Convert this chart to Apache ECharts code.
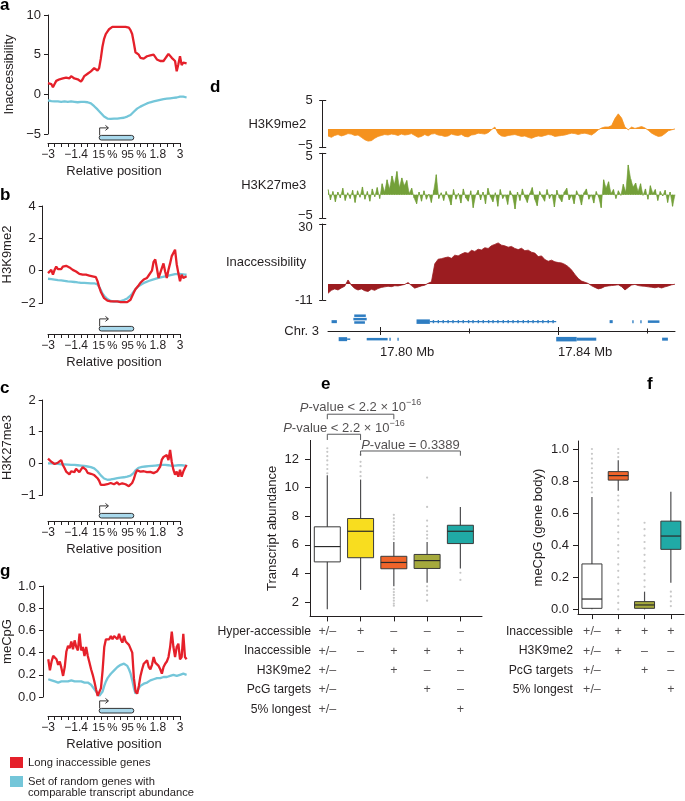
<!DOCTYPE html>
<html><head><meta charset="utf-8">
<script src="https://cdn.jsdelivr.net/npm/echarts@6/dist/echarts.min.js"></script>
<style>html,body{margin:0;padding:0;background:#fff;}#chart{width:685px;height:801px;}</style>
</head><body><div id="chart"></div>
<script>
// ================= DATA =================
// profile panels (a, b, c, g): 85 samples from -3 kb to +3 kb (relative position)
const POS_LABEL_AT = [0, 17, 34.5, 52, 66.5, 80];
const POS_LABELS = ['\u22123', '\u22121.4', '{p|15\u2009%}', '{p|95\u2009%}', '1.8', '3'];
const GENE_BODY = [31, 52];

const RED_A = [1.4,1.2,1.3,0.9,1.3,1.7,1.6,1.9,1.8,2.0, 1.9,2.1,2.2,2.0,2.3,2.1,2.0,2.1,1.9,1.8, 1.6,1.9,2.3,2.5,2.6,2.8,2.9,3.1,3.3,3.1, 3.0,3.3,4.5,6.0,7.0,7.6,7.9,8.2,8.3,8.5, 8.4,8.5,8.4,8.5,8.4,8.5,8.4,8.5,8.3,8.4, 8.1,7.6,6.5,5.3,5.4,5.0,4.6,4.4,4.5,4.7, 4.8,4.9,4.9,5.1,5.0,5.0,4.4,4.3,4.2,4.3, 4.2,4.5,4.8,5.1,4.9,4.6,4.4,4.2,2.9,3.8, 4.8,3.7,4.0,3.9,3.9];
const CYAN_A = [-0.75,-0.8,-0.85,-0.85,-0.9,-0.9,-0.9,-0.95,-0.95,-0.9, -0.9,-0.95,-0.95,-0.95,-0.9,-0.95,-0.95,-0.95,-1.0,-1.0, -0.95,-0.95,-0.95,-1.0,-1.0,-1.05,-1.15,-1.3,-1.5,-1.7, -1.9,-2.1,-2.35,-2.6,-2.8,-2.95,-3.05,-3.1,-3.1,-3.1, -3.05,-3.05,-3.05,-3.0,-3.0,-3.0,-2.95,-2.9,-2.8,-2.7, -2.6,-2.4,-2.2,-2.0,-1.8,-1.65,-1.55,-1.45,-1.35,-1.25, -1.15,-1.05,-1.0,-0.95,-0.9,-0.85,-0.8,-0.75,-0.7,-0.65, -0.6,-0.55,-0.55,-0.5,-0.5,-0.45,-0.45,-0.4,-0.4,-0.35, -0.3,-0.3,-0.3,-0.35,-0.4];
const RED_B = [-0.15,-0.25,0.05,-0.25,0.05,0.25,0.1,0.15,0.1,0.25, 0.2,0.3,0.25,0.2,0.1,0.05,0.0,-0.05,-0.1,-0.2, -0.2,-0.25,-0.2,-0.25,-0.2,-0.3,-0.3,-0.35,-0.3,-0.4, -0.65,-1.0,-1.3,-1.5,-1.7,-1.8,-1.85,-1.9,-1.9,-1.85, -1.9,-1.95,-1.9,-2.0,-1.95,-1.9,-1.95,-2.0,-1.95,-1.85, -1.8,-1.7,-1.35,-1.15,-1.05,-0.9,-0.75,-0.65,-0.55,-0.5, -0.45,-0.3,-0.25,0.0,0.55,0.7,0.15,-0.45,-0.15,0.15, 0.45,-0.05,-0.45,0.05,0.45,0.9,1.0,1.3,0.4,-0.15, -0.65,-0.25,-0.45,-0.35,-0.35];
const CYAN_B = [-0.5,-0.5,-0.52,-0.55,-0.55,-0.57,-0.58,-0.6,-0.6,-0.62, -0.63,-0.65,-0.66,-0.67,-0.68,-0.7,-0.7,-0.72,-0.73,-0.73, -0.75,-0.75,-0.76,-0.76,-0.77,-0.77,-0.78,-0.78,-0.78,-0.8, -0.85,-1.0,-1.2,-1.4,-1.55,-1.65,-1.75,-1.82,-1.87,-1.9, -1.92,-1.92,-1.92,-1.9,-1.88,-1.85,-1.82,-1.78,-1.72,-1.65, -1.55,-1.42,-1.3,-1.15,-1.05,-0.95,-0.88,-0.82,-0.77,-0.72, -0.68,-0.64,-0.6,-0.57,-0.54,-0.51,-0.48,-0.45,-0.43,-0.4, -0.38,-0.35,-0.33,-0.3,-0.28,-0.26,-0.24,-0.22,-0.2,-0.2, -0.2,-0.22,-0.24,-0.25,-0.25];
const RED_C = [0.15,0.1,0.05,0.02,-0.02,0.02,0.02,0.08,0.1,-0.05, -0.15,-0.26,-0.3,-0.35,-0.25,-0.2,-0.28,-0.17,-0.2,-0.28, -0.2,-0.12,-0.08,-0.2,-0.3,-0.32,-0.33,-0.35,-0.37,-0.4, -0.47,-0.55,-0.68,-0.72,-0.68,-0.68,-0.66,-0.63,-0.62,-0.67, -0.66,-0.62,-0.6,-0.67,-0.68,-0.63,-0.64,-0.66,-0.68,-0.72, -0.7,-0.62,-0.5,-0.33,-0.22,-0.25,-0.26,-0.24,-0.25,-0.28, -0.28,-0.26,-0.27,-0.3,-0.31,-0.27,-0.26,-0.18,-0.1,0.12, 0.2,0.16,0.26,0.1,0.42,0.05,-0.2,-0.36,-0.26,-0.42, -0.2,-0.42,-0.26,-0.15,-0.05];
const CYAN_C = [0.0,0.0,0.0,-0.01,-0.01,-0.02,-0.02,-0.02,-0.03,-0.03, -0.03,-0.04,-0.04,-0.04,-0.05,-0.05,-0.05,-0.06,-0.06,-0.07, -0.07,-0.08,-0.08,-0.09,-0.1,-0.11,-0.12,-0.14,-0.16,-0.2, -0.25,-0.31,-0.38,-0.44,-0.48,-0.5,-0.52,-0.52,-0.51,-0.5, -0.49,-0.48,-0.47,-0.46,-0.45,-0.45,-0.44,-0.43,-0.42,-0.41, -0.39,-0.36,-0.3,-0.22,-0.17,-0.14,-0.12,-0.11,-0.1,-0.1, -0.09,-0.09,-0.08,-0.08,-0.08,-0.07,-0.07,-0.06,-0.06,-0.05, -0.05,-0.05,-0.05,-0.06,-0.07,-0.08,-0.08,-0.07,-0.06,-0.06, -0.05,-0.06,-0.06,-0.07,-0.07];
const RED_G = [0.34,0.24,0.32,0.37,0.38,0.34,0.29,0.32,0.26,0.19, 0.27,0.41,0.46,0.44,0.5,0.43,0.51,0.45,0.42,0.57, 0.42,0.45,0.37,0.45,0.37,0.31,0.25,0.2,0.14,0.07, 0.01,0.0,0.08,0.24,0.45,0.52,0.53,0.52,0.55,0.52, 0.55,0.56,0.52,0.57,0.52,0.49,0.55,0.5,0.51,0.47, 0.46,0.4,0.17,0.05,0.03,0.1,0.19,0.25,0.3,0.29, 0.33,0.27,0.25,0.29,0.36,0.31,0.32,0.28,0.25,0.21, 0.27,0.3,0.32,0.36,0.45,0.59,0.45,0.36,0.45,0.48, 0.34,0.36,0.57,0.36,0.34];
const CYAN_G = [0.16,0.15,0.15,0.14,0.14,0.14,0.13,0.14,0.14,0.14, 0.14,0.14,0.14,0.14,0.15,0.14,0.14,0.14,0.14,0.14, 0.14,0.14,0.13,0.13,0.13,0.12,0.11,0.09,0.07,0.05, 0.03,0.01,0.02,0.05,0.1,0.14,0.17,0.19,0.21,0.22, 0.24,0.25,0.27,0.28,0.29,0.3,0.3,0.29,0.28,0.25, 0.21,0.15,0.08,0.03,0.05,0.08,0.1,0.11,0.12,0.13, 0.13,0.14,0.15,0.15,0.16,0.16,0.17,0.16,0.17,0.17, 0.18,0.18,0.18,0.18,0.19,0.2,0.2,0.2,0.19,0.19, 0.2,0.21,0.21,0.21,0.2];

// genome browser tracks (d), evenly spaced along 17.788–17.866 Mb
const MB_RANGE = [17.7883, 17.8663];
const H3K9 = [-2.5,-2.8,-2.4,-2.2,-2.5,-2.3,-2.0,-2.1,-2.4,-2.3, -2.8,-3.3,-3.6,-3.5,-3.0,-2.6,-2.4,-2.2,-2.3,-2.1, -2.2,-2.4,-2.1,-2.3,-2.2,-2.0,-2.4,-2.8,-2.6,-2.2, -2.5,-2.1,-2.0,-2.3,-2.4,-2.6,-2.5,-2.1,-2.3,-2.4, -2.2,-2.6,-2.7,-2.3,-2.2,-1.9,-2.0,-2.1,-1.8,-1.2, -0.6,-2.0,-2.5,-2.6,-2.4,-2.3,-2.2,-2.4,-2.6,-2.5, -2.8,-3.0,-2.7,-2.5,-2.6,-2.4,-2.2,-2.3,-2.6,-2.5, -2.4,-2.3,-2.1,-1.9,-2.0,-2.2,-2.0,-1.9,-2.1,-2.3, -1.8,-1.2,-0.8,-0.6,-0.6,-0.3,1.2,2.2,1.3,-0.6, -1.2,-0.6,-0.9,-0.7,-0.5,-0.8,-1.3,-1.9,-2.3,-2.6, -2.5,-2.0,-1.4,-1.2,-1.0];
const H3K27 = [-0.6,-2.2,-0.9,-2.5,-1.0,-1.9,-0.4,-2.3,-1.1,-2.0,-0.7,-2.6,-0.8,-1.8,-0.2,-2.1,-0.9,-2.4,-0.5,-1.7,-0.3,-2.0,
 0.3,-1.0,0.9,-0.5,1.5,0.2,2.2,-0.3,1.2,0.0,0.8,-1.2,-0.4,
 -1.9,-2.8,-1.0,-2.4,-0.8,-2.1,-1.3,-2.6,-0.7,1.7,-2.0,-1.1,
 -2.3,-0.9,-1.8,-3.0,-0.6,-2.1,-1.2,-2.7,-0.5,-1.9, -2.4,-0.8,-3.4,-1.5,-0.7,-2.2,-1.0,-2.8,-0.4,-1.7, -2.5,-1.1,-3.2,-0.6,-2.0,-1.4,-2.9,-0.8,-1.6,-3.6, -1.0,-2.3,-0.5,-1.8,-2.6,-1.2,-0.3,-2.1,-3.1,-0.9, -1.7,-2.4,-0.6,-2.0,-1.3,-3.3,-0.7,-1.9,-2.5,-1.0, -0.4,-2.2,-1.5,-2.8,-0.8,-1.6,-3.0,-1.1,-0.5,-2.1, -1.4,-2.7,-0.9,-1.8,-3.4,
 0.9,-0.4,0.6,-1.2,-0.6,-2.0,-0.8,-1.5,0.2,-1.0,3.2,1.0,-0.2,0.4,-0.9,0.3,-1.5,-0.5,-2.1,0.0,-1.2,-0.6,-2.3,-0.9,-1.6,-0.7,-2.6,-1.0,-3.2,-1.4];
const INACC = [-7.4,-5.8,-5.0,-5.6,-4.5,-3.6,-0.2,-3.0,-4.8,-5.6, -5.0,-6.0,-6.4,-5.2,-5.8,-4.8,-4.2,-3.9,-3.6,-3.8, -3.3,-3.4,-3.0,-2.6,-1.6,-3.2,-4.6,-4.0,-3.4,-3.0, -2.0,-1.2,8.5,11.0,11.3,11.8,12.2,11.5,13.2,12.8, 13.8,14.6,14.2,15.8,15.2,16.4,16.0,17.2,16.8,18.3, 19.0,19.8,18.6,18.2,17.5,17.9,16.8,16.2,16.9,15.6, 15.9,14.8,14.3,12.4,12.8,10.8,9.9,10.5,9.6,9.2, 9.0,8.2,7.0,5.2,2.8,0.6,-0.8,-1.4,-2.1,-3.3, -4.2,-5.0,-4.6,-3.7,-3.4,-3.2,-3.0,-2.8,-3.8,-5.6, -4.2,-2.9,-2.6,-3.2,-3.5,-3.6,-3.9,-4.1,-4.4,-4.0, -4.5,-3.9,-3.4,-2.8,-2.5];
const TRACK_NAMES = ['H3K9me2', 'H3K27me3', 'Inaccessibility'];
const TRACK_MIN = [-5, -5, -11];
const TRACK_MAX = [5, 5, 30];
const TRACK_MIN_LABEL = ['{u|\u22125}', '{u|\u22125}', '-11'];
const TRACK_MAX_LABEL = ['5', '{d|5}', '{d|30}'];
const TRACK_BASE = [-1.0, -1.4, -2.4];

// gene models on Chr. 3 (Mb): start, end, row (+ above / - below axis), block height
const GENE_START = [17.7891,17.7942,17.7940,17.7942,17.8082,17.8112,17.8516,17.8567,17.8585,17.8602, 17.7907,17.7926,17.7970,17.8021,17.8039,17.8396,17.8442,17.8634];
const GENE_END   = [17.7903,17.7968,17.7970,17.7966,17.8112,17.8396,17.8523,17.8570,17.8588,17.8628, 17.7926,17.7933,17.8017,17.8024,17.8042,17.8442,17.8486,17.8647];
const GENE_ROW   = [0.55,0.9,0.7,0.5,0.55,0.55,0.55,0.55,0.55,0.55, -0.48,-0.48,-0.48,-0.48,-0.48,-0.48,-0.48,-0.48];
const GENE_H     = [3,2.5,2.5,2.5,4.5,1.2,3,3,3,2.5, 4,1.5,2.5,3,3,4.5,3,3];
const EXON_MB = [17.8120,17.8131,17.8142,17.8153,17.8164,17.8176,17.8187,17.8199,17.8209,17.8221,17.8232,17.8244,17.8254,17.8265,17.8277,17.8288,17.8299,17.8310,17.8322,17.8333,17.8344,17.8355,17.8366,17.8378,17.8389];
const MB_MAJOR = [17.80, 17.84];
const MB_MINOR = [17.82, 17.86];

// panel e: transcript abundance boxplots
const E_MIN = [1.5, 2.85, 3.1, 3.35, 4.35];
const E_Q1  = [4.81, 5.1, 4.33, 4.35, 6.09];
const E_MED = [5.88, 6.95, 4.77, 4.9, 6.95];
const E_Q3  = [7.26, 7.84, 5.2, 5.33, 7.37];
const E_MAX = [10.86, 10.56, 6.2, 6.2, 8.65];
const E_OUT_X = [0,0,0,0,0,0,0, 1,1,1,1,1, 2,2,2,2,2,2,2,2,2,2,2,2,2,2,2, 3,3,3,3,3,3,3,3,3,3,3, 4,4];
const E_OUT_Y = [11.0,11.3,11.6,11.9,12.2,12.5,12.75, 10.8,11.1,11.5,11.8,12.3, 6.4,6.6,6.85,7.1,7.35,7.6,7.85,8.1,2.9,2.7,2.5,2.3,2.1,1.9,1.75, 6.45,6.7,6.95,7.3,7.7,8.65,10.7,3.1,2.8,2.5,2.1, 4.05,3.55];
const E_TICKS = [2, 4, 6, 8, 10, 12];
const ROWS_E = ['Hyper-accessible', 'Inaccessible', 'H3K9me2', 'PcG targets', '5% longest'];
const TABLE_E = [
  ['+/\u2013', '+', '\u2013', '\u2013', '\u2013'],
  ['+/\u2013', '\u2013', '+', '+', '+'],
  ['+/\u2013', '', '+', '\u2013', '\u2013'],
  ['+/\u2013', '', '', '+', '\u2013'],
  ['+/\u2013', '', '', '', '+']
];
const BR_X1 = [0, 0, 1];
const BR_X2 = [2, 1, 4];
const BR_TOP = [15.13, 13.73, 12.56];
const BR_LEG = [14.78, 13.33, 12.23];
const P_TEXT_Y = [15.57, 14.12, 12.93];
const P_LABELS = ['{i|P}-value < 2.2 \u00d7 10{s|\u221216}', '{i|P}-value < 2.2 \u00d7 10{s|\u221216}', '{i|P}-value = 0.3389'];

// panel f: gene body meCpG boxplots
const F_MIN = [0.0, 0.74, 0.0, 0.166];
const F_Q1  = [0.006, 0.806, 0.006, 0.374];
const F_MED = [0.064, 0.834, 0.027, 0.457];
const F_Q3  = [0.283, 0.859, 0.048, 0.55];
const F_MAX = [0.70, 0.93, 0.11, 0.734];
const F_OUT_X = [0,0,0,0,0,0,0,0,0,0, 1,1,1,1,1,1,1,1,1,1,1,1,1,1,1,1,1,1,1,1,1,1, 2,2,2,2,2,2,2,2,2,2,2, 3,3,3,3];
const F_OUT_Y = [0.73,0.76,0.79,0.82,0.85,0.88,0.91,0.94,0.97,1.0, 0.95,0.975,1.0,0.71,0.68,0.64,0.6,0.56,0.52,0.48,0.44,0.4,0.36,0.32,0.28,0.24,0.2,0.16,0.12,0.08,0.04,0.0, 0.14,0.18,0.22,0.26,0.3,0.34,0.38,0.42,0.46,0.5,0.54, 0.11,0.08,0.05,0.02];
const F_TICKS = [0, 0.2, 0.4, 0.6, 0.8, 1.0];
const ROWS_F = ['Inaccessible', 'H3K9me2', 'PcG targets', '5% longest'];
const TABLE_F = [
  ['+/\u2013', '+', '+', '+'],
  ['+/\u2013', '+', '\u2013', '\u2013'],
  ['+/\u2013', '', '+', '\u2013'],
  ['+/\u2013', '', '', '+']
];

const RED_NAME = 'Long inaccessible genes';
const CYAN_NAME = 'Set of random genes with\ncomparable transcript abundance';
const LETTERS = ['a', 'b', 'c', 'g', 'd', 'e', 'f'];

// ================= STYLE =================
const FONT = "'Liberation Sans', Arial, Helvetica, sans-serif";
const INK = '#231f20';
const RED = '#e5202a', CYAN = '#74c6d9';
const TRACK_COLORS = ['#f5921e', '#74a03a', '#9b1c20'];
const GENE_BLUE = '#2e7dc2';
const E_COLORS = ['#ffffff', '#f8dd1f', '#f0642a', '#a5a93c', '#20aaa6'];
const F_COLORS = ['#ffffff', '#f0642a', '#a5a93c', '#20aaa6'];
const LETTER_POS = [[0,5],[0,195],[0,388],[0,571],[210,87],[321,384],[647,384]];

const grids = [], xAxes = [], yAxes = [], series = [];
const line = {show: true, onZero: false, lineStyle: {color: INK, width: 1}};
const noLine = {show: false, onZero: false};

// ---------- profile panels ----------
const PROFILES = [
  {top: 15, height: 119, axisX: 48, axisY: 143, min: -5, max: 10, interval: 5, name: 'Inaccessibility', red: RED_A, cyan: CYAN_A, fmt: v => v < 0 ? '\u2212' + (-v) : '' + v},
  {top: 206, height: 97, axisX: 42.7, axisY: 334, min: -2, max: 4, interval: 2, name: 'H3K9me2', red: RED_B, cyan: CYAN_B, fmt: v => v < 0 ? '\u2212' + (-v) : '' + v},
  {top: 400, height: 95, axisX: 42.7, axisY: 521, min: -1, max: 2, interval: 1, name: 'H3K27me3', red: RED_C, cyan: CYAN_C, fmt: v => v < 0 ? '\u2212' + (-v) : '' + v},
  {top: 586, height: 111, axisX: 42.7, axisY: 716, min: 0, max: 1, interval: 0.2, name: 'meCpG', red: RED_G, cyan: CYAN_G, fmt: v => v.toFixed(1)}
];

function geneSchematic(xi, yi) {
  return {
    type: 'custom', xAxisIndex: xi, yAxisIndex: yi, data: [GENE_BODY], clip: false, silent: true, z: 4,
    renderItem(params, api) {
      const s = api.coord([api.value(0), 0]), e = api.coord([api.value(1), 0]);
      const h = 4.6, top = s[1] - 3 - h, x0 = s[0] + 0.5;
      return {type: 'group', children: [
        {type: 'rect', shape: {x: s[0], y: top, width: e[0] - s[0], height: h, r: 2.3}, style: {fill: '#a9d9ec', stroke: INK, lineWidth: 0.9}},
        {type: 'polyline', shape: {points: [[x0, top], [x0, top - 7.5], [x0 + 8.5, top - 7.5]]}, style: {stroke: INK, fill: null, lineWidth: 0.9}},
        {type: 'polyline', shape: {points: [[x0 + 5.8, top - 10], [x0 + 8.8, top - 7.5], [x0 + 5.8, top - 5]]}, style: {stroke: INK, fill: null, lineWidth: 0.9}}
      ]};
    }
  };
}

PROFILES.forEach(p => {
  const g = grids.push({left: 48, top: p.top, width: 138.6, height: p.height}) - 1;
  const xi = xAxes.push({gridIndex: g, type: 'value', min: 0, max: 84, show: false}) - 1;
  const yi = yAxes.push({gridIndex: g, type: 'value', min: p.min, max: p.max, interval: p.interval, offset: 48 - p.axisX,
    axisLine: line, axisTick: {show: true, length: 4, lineStyle: {color: INK}},
    axisLabel: {fontSize: 13, color: INK, margin: 7, formatter: p.fmt}, splitLine: {show: false},
    name: p.name, nameLocation: 'middle', nameGap: p.axisX - 7.5 - 6.5 - (p.axisX === 48 ? 1.5 : 0), nameTextStyle: {fontSize: 13, color: INK}}) - 1;
  series.push({type: 'line', name: CYAN_NAME, xAxisIndex: xi, yAxisIndex: yi, data: p.cyan.map((v, i) => [i, v]),
    showSymbol: false, symbol: 'none', lineStyle: {color: CYAN, width: 2.3}, itemStyle: {color: CYAN}, clip: false, z: 2});
  series.push({type: 'line', name: RED_NAME, xAxisIndex: xi, yAxisIndex: yi, data: p.red.map((v, i) => [i, v]),
    showSymbol: false, symbol: 'none', lineStyle: {color: RED, width: 2.3}, itemStyle: {color: RED}, clip: false, z: 3});
  const ga = grids.push({left: 48, top: p.axisY - 26, width: 132, height: 26}) - 1;
  const xa = xAxes.push({gridIndex: ga, type: 'value', min: 0, max: 80, interval: 4, position: 'bottom',
    axisLine: line, axisTick: {show: true, length: 4, lineStyle: {color: INK}},
    axisLabel: {customValues: POS_LABEL_AT, formatter: v => POS_LABELS[POS_LABEL_AT.indexOf(v)], fontSize: 12, margin: 6, color: INK,
      rich: {p: {fontSize: 11.5, color: INK}}},
    splitLine: {show: false}, name: 'Relative position', nameLocation: 'middle', nameGap: 22, nameTextStyle: {fontSize: 13, color: INK}}) - 1;
  const ya = yAxes.push({gridIndex: ga, type: 'value', min: 0, max: 1, show: false}) - 1;
  series.push(geneSchematic(xa, ya));
});

// ---------- panel d tracks ----------
const TRACK_DATA = [H3K9, H3K27, INACC];
const TRACK_BOX = [[100.7, 47], [153.3, 64.7], [224, 76]];
TRACK_DATA.forEach((d, k) => {
  const [top, height] = TRACK_BOX[k];
  const tv = [TRACK_MIN[k], TRACK_MAX[k]];
  const g = grids.push({left: 328, top, width: 347, height}) - 1;
  const xi = xAxes.push({gridIndex: g, type: 'value', min: 0, max: d.length - 1, show: false}) - 1;
  const yi = yAxes.push({gridIndex: g, type: 'value', min: TRACK_MIN[k], max: TRACK_MAX[k], offset: 5.3,
    axisLine: line, axisTick: {show: true, length: 3.5, customValues: tv, lineStyle: {color: INK}},
    axisLabel: {customValues: tv, fontSize: 13, color: INK, margin: 10,
      formatter: v => v === TRACK_MIN[k] ? TRACK_MIN_LABEL[k] : TRACK_MAX_LABEL[k],
      rich: {u: {fontSize: 13, padding: [0, 0, 5, 0]}, d: {fontSize: 13, padding: [6, 0, 0, 0]}}},
    splitLine: {show: false}, name: TRACK_NAMES[k], nameLocation: 'middle', nameRotate: 0, nameGap: 16.5, nameMoveOverlap: false,
    nameTextStyle: {fontSize: 13, color: INK}}) - 1;
  series.push({type: 'line', xAxisIndex: xi, yAxisIndex: yi, data: d.map((v, i) => [i, v]), showSymbol: false, symbol: 'none',
    lineStyle: {color: TRACK_COLORS[k], width: k === 1 ? 0.6 : 0.8}, areaStyle: {color: TRACK_COLORS[k], opacity: 1, origin: TRACK_BASE[k]}, z: 2});
  if (k === 1) {
    // ChIP signal spikes from the track baseline
    series.push({type: 'custom', xAxisIndex: xi, yAxisIndex: yi, clip: true, silent: true, z: 3,
      data: d.map((v, i) => [i, v]),
      renderItem(params, api) {
        const a = api.coord([api.value(0), TRACK_BASE[k]]), b = api.coord([api.value(0), api.value(1)]);
        return {type: 'line', shape: {x1: a[0], y1: a[1], x2: b[0], y2: b[1]}, style: {stroke: TRACK_COLORS[k], lineWidth: 1.2}};
      }});
  }
  // inward half of the end ticks
  const g2 = grids.push({left: 328, top, width: 347, height}) - 1;
  xAxes.push({gridIndex: g2, type: 'value', min: 0, max: 1, show: false});
  yAxes.push({gridIndex: g2, type: 'value', min: TRACK_MIN[k], max: TRACK_MAX[k], offset: 5.3, axisLine: noLine,
    axisTick: {show: true, inside: true, length: 3.5, customValues: tv, lineStyle: {color: INK}}, axisLabel: {show: false}, splitLine: {show: false}});
});

// chromosome axis (axis line at grid bottom = 331)
function chrGrid(ticks, inside, len, main) {
  const g = grids.push({left: 328, top: 301, width: 347, height: 30}) - 1;
  xAxes.push({gridIndex: g, type: 'value', min: MB_RANGE[0], max: MB_RANGE[1], position: 'bottom',
    axisLine: main ? line : noLine,
    axisTick: {show: true, inside, length: len, customValues: ticks, lineStyle: {color: INK, width: 1}},
    axisLabel: main ? {customValues: MB_MAJOR, formatter: v => v.toFixed(2) + ' Mb', align: 'left', margin: 15, fontSize: 13, color: INK} : {show: false},
    splitLine: {show: false}});
  yAxes.push({gridIndex: g, type: 'value', min: 0, max: 1, show: false});
}
chrGrid(MB_MAJOR, false, 4, true);
chrGrid(MB_MAJOR, true, 4, false);
chrGrid(MB_MINOR, false, 2.5, false);
chrGrid(MB_MINOR, true, 2.5, false);
// gene models grid, centred on the chromosome axis
const gg = grids.push({left: 328, top: 314, width: 347, height: 34}) - 1;
const gx = xAxes.push({gridIndex: gg, type: 'value', min: MB_RANGE[0], max: MB_RANGE[1], show: false}) - 1;
const gy = yAxes.push({gridIndex: gg, type: 'value', min: -1, max: 1, axisLine: noLine, axisTick: {show: false}, axisLabel: {show: false}, splitLine: {show: false},
  name: 'Chr. 3', nameLocation: 'middle', nameRotate: 0, nameGap: 9, nameMoveOverlap: false, nameTextStyle: {fontSize: 13, color: INK}}) - 1;
series.push({type: 'custom', xAxisIndex: gx, yAxisIndex: gy, clip: false, silent: true,
  data: GENE_START.map((s, i) => [s, GENE_END[i], GENE_ROW[i], GENE_H[i]]),
  renderItem(params, api) {
    const a = api.coord([api.value(0), api.value(2)]), b = api.coord([api.value(1), api.value(2)]);
    const h = api.value(3);
    return {type: 'rect', shape: {x: a[0], y: a[1] - h / 2, width: Math.max(b[0] - a[0], 1), height: h}, style: {fill: GENE_BLUE}};
  }});
series.push({type: 'custom', xAxisIndex: gx, yAxisIndex: gy, clip: false, silent: true,
  data: EXON_MB.map(m => [m, 0.55]),
  renderItem(params, api) {
    const a = api.coord([api.value(0), api.value(1)]);
    return {type: 'rect', shape: {x: a[0] - 0.7, y: a[1] - 1.6, width: 1.4, height: 3.2}, style: {fill: GENE_BLUE}};
  }});

// ---------- box panels ----------
function boxSeries(xi, yi, mins, q1, med, q3, maxs, colors, bw) {
  return {type: 'custom', xAxisIndex: xi, yAxisIndex: yi, clip: false, z: 4,
    data: mins.map((m, i) => [i, m, q1[i], med[i], q3[i], maxs[i]]),
    renderItem(params, api) {
      const x = api.value(0);
      const pMin = api.coord([x, api.value(1)]), pQ1 = api.coord([x, api.value(2)]), pMed = api.coord([x, api.value(3)]),
            pQ3 = api.coord([x, api.value(4)]), pMax = api.coord([x, api.value(5)]);
      const w = bw / 2;
      return {type: 'group', children: [
        {type: 'line', shape: {x1: pMin[0], y1: pMin[1], x2: pMax[0], y2: pMax[1]}, style: {stroke: '#4d4d4f', lineWidth: 1.2}},
        {type: 'rect', shape: {x: pQ3[0] - w, y: pQ3[1], width: 2 * w, height: pQ1[1] - pQ3[1]}, style: {fill: colors[params.dataIndex], stroke: '#3a3a3a', lineWidth: 1}},
        {type: 'line', shape: {x1: pMed[0] - w, y1: pMed[1], x2: pMed[0] + w, y2: pMed[1]}, style: {stroke: '#2a2a2a', lineWidth: 1.2}}
      ]};
    }};
}
function outlierSeries(xi, yi, xs, ys) {
  return {type: 'scatter', xAxisIndex: xi, yAxisIndex: yi, data: xs.map((x, i) => [x, ys[i]]), symbolSize: 2.2,
    itemStyle: {color: '#b9b9b9'}, clip: false, z: 2, silent: true};
}
function tableGrid(left, width, top, rows, table, colMin, colMax, margin) {
  const g = grids.push({left, top, width, height: rows.length * 19.4}) - 1;
  const xi = xAxes.push({gridIndex: g, type: 'value', min: colMin, max: colMax, show: false}) - 1;
  const yi = yAxes.push({gridIndex: g, type: 'category', data: rows, inverse: true, axisLine: noLine, axisTick: {show: false},
    axisLabel: {fontSize: 12.2, color: INK, margin, interval: 0}, splitLine: {show: false}}) - 1;
  const cells = [];
  table.forEach((r, ri) => r.forEach((t, ci) => { if (t) cells.push([ci, ri, t]); }));
  series.push({type: 'scatter', xAxisIndex: xi, yAxisIndex: yi, data: cells, symbolSize: 1, itemStyle: {color: 'rgba(0,0,0,0)'}, silent: true,
    label: {show: true, position: 'inside', formatter: p => p.value[2], fontSize: 12.5, color: INK}});
}

// panel e
const ge = grids.push({left: 310, top: 440.4, width: 172, height: 176}) - 1;
const xe = xAxes.push({gridIndex: ge, type: 'value', min: -0.52, max: 4.65, axisLine: line,
  axisTick: {show: true, length: 5, customValues: [0, 1, 2, 3, 4], lineStyle: {color: INK}}, axisLabel: {show: false}, splitLine: {show: false}}) - 1;
const ye = yAxes.push({gridIndex: ge, type: 'value', min: 1, max: 13.3, axisLine: line,
  axisTick: {show: true, length: 5, customValues: E_TICKS, lineStyle: {color: INK}},
  axisLabel: {customValues: E_TICKS, fontSize: 13, color: INK, margin: 11}, splitLine: {show: false},
  name: 'Transcript abundance', nameLocation: 'middle', nameGap: 31, nameTextStyle: {fontSize: 13, color: INK}}) - 1;
series.push(outlierSeries(xe, ye, E_OUT_X, E_OUT_Y));
series.push(boxSeries(xe, ye, E_MIN, E_Q1, E_MED, E_Q3, E_MAX, E_COLORS, 26));
BR_X1.forEach((x1, i) => {
  series.push({type: 'line', xAxisIndex: xe, yAxisIndex: ye, clip: false, silent: true, showSymbol: false, symbol: 'none',
    data: [[x1, BR_LEG[i]], [x1, BR_TOP[i]], [BR_X2[i], BR_TOP[i]], [BR_X2[i], BR_LEG[i]]],
    lineStyle: {color: '#58595b', width: 1}});
});
series.push({type: 'scatter', xAxisIndex: xe, yAxisIndex: ye, clip: false, silent: true, symbolSize: 1, itemStyle: {color: 'rgba(0,0,0,0)'},
  data: BR_X1.map((x1, i) => [(x1 + BR_X2[i]) / 2, P_TEXT_Y[i]]),
  label: {show: true, position: 'inside', formatter: p => P_LABELS[p.dataIndex], fontSize: 13, color: INK, lineHeight: 20,
    rich: {i: {fontStyle: 'italic', fontSize: 13, lineHeight: 20}, s: {fontSize: 9, lineHeight: 10, verticalAlign: 'top'}}}});
tableGrid(310, 172, 622, ROWS_E, TABLE_E, -0.52, 4.65, -1);

// panel f
const gf = grids.push({left: 578, top: 441, width: 106, height: 173.1}) - 1;
const xf = xAxes.push({gridIndex: gf, type: 'value', min: -0.53, max: 3.5, axisLine: line,
  axisTick: {show: true, length: 5, customValues: [0, 1, 2, 3], lineStyle: {color: INK}}, axisLabel: {show: false}, splitLine: {show: false}}) - 1;
const yf = yAxes.push({gridIndex: gf, type: 'value', min: -0.03, max: 1.05, axisLine: line,
  axisTick: {show: true, length: 5, customValues: F_TICKS, lineStyle: {color: INK}},
  axisLabel: {customValues: F_TICKS, fontSize: 13, color: INK, margin: 9, formatter: v => v.toFixed(1)}, splitLine: {show: false},
  name: 'meCpG (gene body)', nameLocation: 'middle', nameGap: 33, nameTextStyle: {fontSize: 13, color: INK}}) - 1;
series.push(outlierSeries(xf, yf, F_OUT_X, F_OUT_Y));
series.push(boxSeries(xf, yf, F_MIN, F_Q1, F_MED, F_Q3, F_MAX, F_COLORS, 20));
tableGrid(578, 106, 622, ROWS_F, TABLE_F, -0.53, 3.5, 5);

const option = {
  animation: false,
  textStyle: {fontFamily: FONT, color: INK},
  grid: grids, xAxis: xAxes, yAxis: yAxes, series,
  legend: [
    {data: [RED_NAME], left: 10, top: 757, padding: 0, orient: 'vertical', itemWidth: 13, itemHeight: 11, icon: 'rect', selectedMode: false,
      textStyle: {fontSize: 11.2, color: INK, fontFamily: FONT}},
    {data: [CYAN_NAME], left: 10, top: 765, padding: 0, orient: 'vertical', itemWidth: 13, itemHeight: 11, icon: 'rect', selectedMode: false,
      formatter: name => '\n' + name,
      textStyle: {fontSize: 11.2, color: INK, fontFamily: FONT, lineHeight: 11}}
  ],
  graphic: LETTERS.map((t, i) => ({type: 'text', x: LETTER_POS[i][0], y: LETTER_POS[i][1], silent: true,
    style: {text: t, fontSize: 17, fontWeight: 'bold', fontFamily: FONT, fill: '#000', verticalAlign: 'middle'}}))
};
const chart = echarts.init(document.getElementById('chart'), null, {renderer: 'canvas'});
chart.setOption(option);
</script></body></html>
